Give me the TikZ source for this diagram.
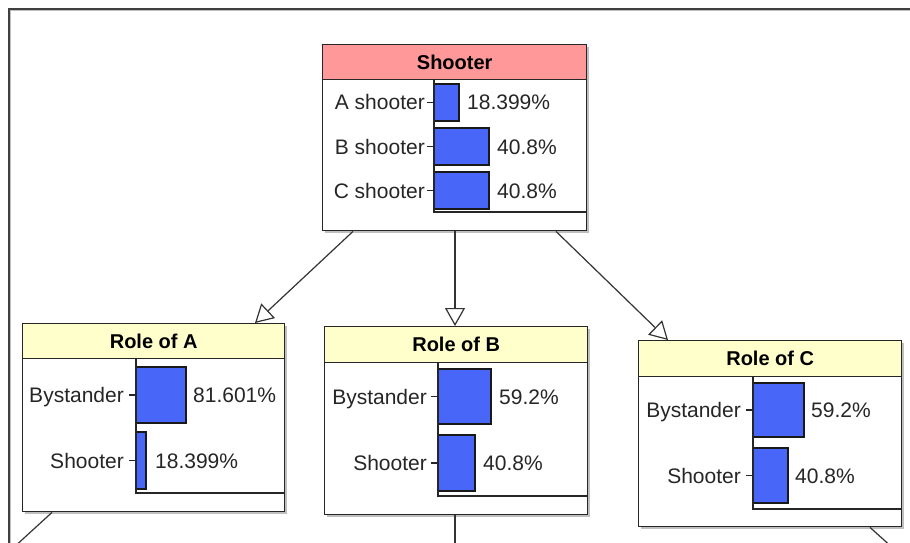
\documentclass[tikz,border=0pt]{standalone}
\usepackage{fontspec}
\setmainfont{Liberation Sans}
\usetikzlibrary{arrows.meta}
\definecolor{hdrred}{RGB}{255,153,153}
\definecolor{hdryel}{RGB}{255,255,204}
\definecolor{barblue}{RGB}{72,102,248}
\tikzset{
  box/.style={draw=black!85, line width=1.4pt, fill=white, anchor=north west, inner sep=0pt, minimum width=#1},
  shadowbox/.style={fill=black!25, draw=none},
  hdr/.style={draw=black!85, line width=1.4pt, anchor=north west, inner sep=0pt, minimum width=#1, font=\fontsize{20}{24}\selectfont\bfseries},
  lbl/.style={anchor=base east, inner sep=0pt, font=\fontsize{21}{25}\selectfont, text=black!85},
  val/.style={anchor=base west, inner sep=0pt, font=\fontsize{21}{25}\selectfont, text=black!85},
  barr/.style={fill=barblue, draw=black!90, line width=1.2pt},
  axis/.style={draw=black!85, line width=1.2pt},
  conn/.style={draw=black!80, line width=1.2pt, -{Triangle[open, length=18pt, width=20pt, fill=white]}},
  plain/.style={draw=black!80, line width=1.2pt},
}
\begin{document}
\begin{tikzpicture}[x=1pt, y=-1pt]
\useasboundingbox (0,0) rectangle (910,543);
\clip (0,0) rectangle (910,543);
\fill[white] (0,0) rectangle (910,543);
% outer frame
\draw[black!75, line width=1.3pt] (9,560) -- (9,9) -- (920,9);
\draw[black!25, line width=1pt] (10.5,560) -- (10.5,10.5) -- (920,10.5);

% ---------- Shooter ----------
\fill[shadowbox] (325,47) rectangle (589,233);
\node[box=264pt, minimum height=186pt] (S) at (322,44) {};
\node[hdr=264pt, minimum height=35pt, fill=hdrred] (Sh) at (322,44) {Shooter};
\draw[barr] (434,84) rectangle (459,121);
\draw[barr] (434,128) rectangle (489,165);
\draw[barr] (434,172) rectangle (489,209);
\draw[axis] (434,79) -- (434,212) -- (586,212);
\draw[axis] (427,102.5) -- (434,102.5);
\draw[axis] (427,146.5) -- (434,146.5);
\draw[axis] (427,190.5) -- (434,190.5);
\node[lbl] (s1) at (425,110) {A shooter};
\node[lbl] (s2) at (425,154) {B shooter};
\node[lbl] (s3) at (425,198) {C shooter};
\node[val] (v1) at (467,110) {18.399\%};
\node[val] (v2) at (497,154) {40.8\%};
\node[val] (v3) at (497,198) {40.8\%};

% ---------- Role of A ----------
\fill[shadowbox] (25,326) rectangle (287,514);
\node[box=262pt, minimum height=188pt] (RA) at (22,323) {};
\node[hdr=262pt, minimum height=35pt, fill=hdryel] (RAh) at (22,323) {Role of A};
\draw[barr] (136,367) rectangle (186,423);
\draw[barr] (136,432) rectangle (146,489);
\draw[axis] (136,358) -- (136,493) -- (284,493);
\draw[axis] (129,395) -- (136,395);
\draw[axis] (129,460.5) -- (136,460.5);
\node[lbl] (a1) at (124,402.5) {Bystander};
\node[lbl] (a2) at (124,468) {Shooter};
\node[val] (av1) at (193,402.5) {81.601\%};
\node[val] (av2) at (155,468) {18.399\%};

% ---------- Role of B ----------
\fill[shadowbox] (327,329) rectangle (590,517);
\node[box=263pt, minimum height=188pt] (RB) at (324,326) {};
\node[hdr=263pt, minimum height=36pt, fill=hdryel] (RBh) at (324,326) {Role of B};
\draw[barr] (438,369) rectangle (491,424);
\draw[barr] (438,435) rectangle (475,491);
\draw[axis] (438,362) -- (438,496) -- (587,496);
\draw[axis] (431,396.5) -- (438,396.5);
\draw[axis] (431,463) -- (438,463);
\node[lbl] (b1) at (427,404) {Bystander};
\node[lbl] (b2) at (427,470.5) {Shooter};
\node[val] (bv1) at (499,404) {59.2\%};
\node[val] (bv2) at (483,470.5) {40.8\%};

% ---------- Role of C ----------
\fill[shadowbox] (641,343) rectangle (904,529);
\node[box=263pt, minimum height=186pt] (RC) at (638,340) {};
\node[hdr=263pt, minimum height=36pt, fill=hdryel] (RCh) at (638,340) {Role of C};
\draw[barr] (753,383) rectangle (804,437);
\draw[barr] (753,448) rectangle (788,503);
\draw[axis] (753,376) -- (753,509) -- (901,509);
\draw[axis] (746,410) -- (753,410);
\draw[axis] (746,475.5) -- (753,475.5);
\node[lbl] (c1) at (741,417.5) {Bystander};
\node[lbl] (c2) at (741,483) {Shooter};
\node[val] (cv1) at (811,417.5) {59.2\%};
\node[val] (cv2) at (795,483) {40.8\%};

% ---------- connectors ----------
\draw[conn] ([xshift=31pt]S.south west) -- ([xshift=233pt]RAh.north west);
\draw[conn] ([xshift=133pt]S.south west) -- ([xshift=131pt]RBh.north west);
\draw[conn] ([xshift=234pt]S.south west) -- ([xshift=30pt]RCh.north west);

\coordinate (offA) at (12,549);
\coordinate (offB) at (455,560);
\coordinate (offC) at (894,549);
\draw[plain] ([xshift=30pt]RA.south west) -- (offA);
\draw[plain] ([xshift=131pt]RB.south west) -- (offB);
\draw[plain] ([xshift=232pt]RC.south west) -- (offC);
\end{tikzpicture}
\end{document}
